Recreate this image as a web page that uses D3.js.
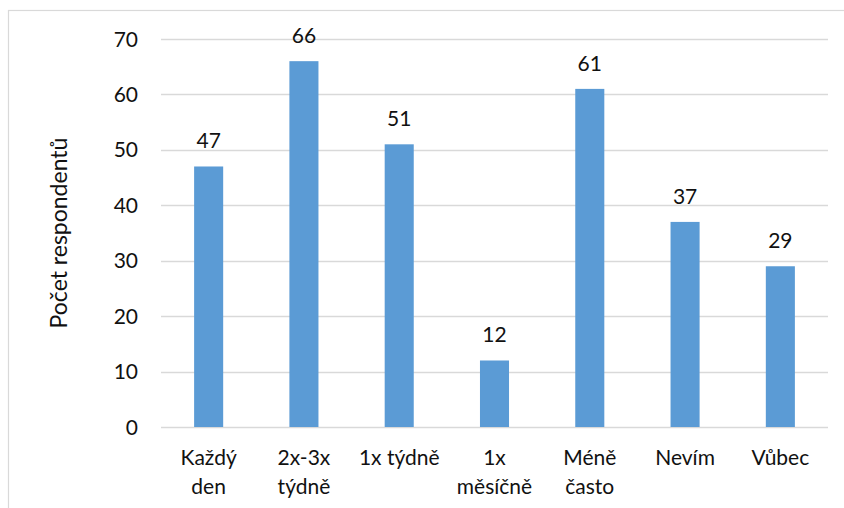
<!DOCTYPE html>
<html><head><meta charset="utf-8">
<script src="https://cdn.jsdelivr.net/npm/d3@7"></script>
<style>body{margin:0;background:#fff}svg{display:block}text{font-family:Lato,"Open Sans",sans-serif}</style>
</head><body><svg id="c" width="844" height="508"></svg>
<script>
const categories = ["Každý\nden", "2x-3x\ntýdně", "1x týdně", "1x\nměsíčně", "Méně\nčasto", "Nevím", "Vůbec"];
const values = [47, 66, 51, 12, 61, 37, 29];
const yTicks = [0, 10, 20, 30, 40, 50, 60, 70];
const yTitle = "Počet respondentů";

const svg = d3.select("#c");
svg.append("rect").attr("x", 8.5).attr("y", 10.5).attr("width", 900).attr("height", 600)
  .attr("fill", "none").attr("stroke", "#d9d9d9").attr("stroke-width", 1.2);

const mLeft = 161, mRight = 828, mTop = 39, mBottom = 427;
const x = d3.scaleBand().domain(categories).range([mLeft, mRight]).paddingInner(0.695).paddingOuter(0.3475);
const y = d3.scaleLinear().domain([0, 70]).range([mBottom, mTop]);

const g = svg.append("g");
g.selectAll("line.grid").data(yTicks).join("line")
  .attr("x1", mLeft).attr("x2", mRight)
  .attr("y1", d => Math.round(y(d)) + 0.5).attr("y2", d => Math.round(y(d)) + 0.5)
  .attr("stroke", "#d9d9d9").attr("stroke-width", 1.3);

g.selectAll("text.yt").data(yTicks).join("text")
  .attr("x", 138).attr("y", d => y(d)).attr("dy", "0.36em")
  .attr("text-anchor", "end").attr("font-size", 21).attr("fill", "#111")
  .text(d => d);

g.selectAll("rect.bar").data(values).join("rect")
  .attr("x", (d, i) => x(categories[i])).attr("width", x.bandwidth())
  .attr("y", d => y(d)).attr("height", d => y(0) - y(d))
  .attr("fill", "#5b9bd5");

g.selectAll("text.val").data(values).join("text")
  .attr("x", (d, i) => x(categories[i]) + x.bandwidth() / 2)
  .attr("y", d => y(d) - 18)
  .attr("text-anchor", "middle").attr("font-size", 21).attr("fill", "#111")
  .text(d => d);

const xl = g.selectAll("text.xl").data(categories).join("text")
  .attr("text-anchor", "middle").attr("font-size", 21).attr("fill", "#111")
  .attr("transform", d => `translate(${x(d) + x.bandwidth() / 2},465)`);
xl.selectAll("tspan").data(d => d.split("\n")).join("tspan")
  .attr("x", 0).attr("dy", (d, i) => i === 0 ? 0 : 28.5).text(d => d);

svg.append("text").attr("transform", "translate(67,233) rotate(-90)")
  .attr("text-anchor", "middle").attr("font-size", 23).attr("fill", "#111")
  .text(yTitle);
</script></body></html>
